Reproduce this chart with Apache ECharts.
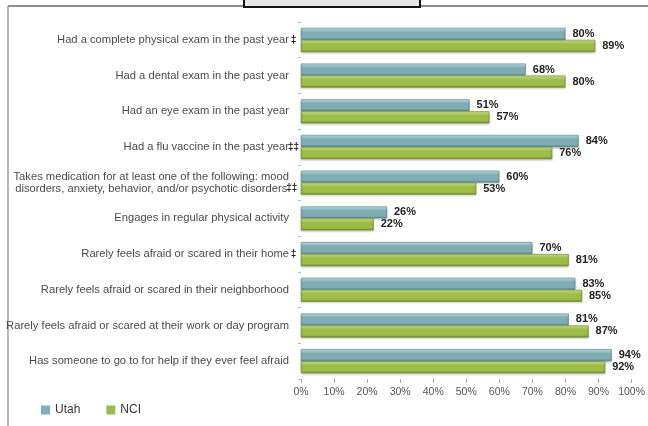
<!DOCTYPE html>
<html>
<head>
<meta charset="utf-8">
<script src="https://cdn.jsdelivr.net/npm/echarts@6/dist/echarts.min.js"></script>
<style>html,body{margin:0;padding:0;background:#fff}#c{width:648px;height:426px}</style>
</head>
<body>
<div id="c"></div>
<script>
const categories = [
  "Had a complete physical exam in the past year",
  "Had a dental exam in the past year",
  "Had an eye exam in the past year",
  "Had a flu vaccine in the past year",
  "Takes medication for at least one of the following: mood\ndisorders, anxiety, behavior, and/or psychotic disorders",
  "Engages in regular physical activity",
  "Rarely feels afraid or scared in their home",
  "Rarely feels afraid or scared in their neighborhood",
  "Rarely feels afraid or scared at their work or day program",
  "Has someone to go to for help if they ever feel afraid"
];
const marks = ["‡", "", "", "‡‡", "‡‡", "", "‡", "", "", ""];
const utah = [80, 68, 51, 84, 60, 26, 70, 83, 81, 94];
const nci = [89, 80, 57, 76, 53, 22, 81, 85, 87, 92];
const xTicks = ["0%","10%","20%","30%","40%","50%","60%","70%","80%","90%","100%"];

const chart = echarts.init(document.getElementById('c'), null, {renderer:'canvas'});
function grad(top, mid, bot){
  return new echarts.graphic.LinearGradient(0,0,0,1,[
    {offset:0,color:top},{offset:0.35,color:mid},{offset:0.8,color:mid},{offset:1,color:bot}]);
}
const labelFont = "Liberation Sans";
chart.setOption({
  backgroundColor:'#fff',
  animation:false,
  grid:{left:301, right:13, top:22, bottom:47, containLabel:false},
  legend:{
    data:[{name:'Utah', itemStyle:{color:'#7fb0b8'}},{name:'NCI', itemStyle:{color:'#9bbb4a'}}],
    left:36, top:399, itemWidth:9, itemHeight:9, itemGap:26, itemTextGap:3,
    icon:'rect',
    itemStyle:{borderWidth:0},
    textStyle:{fontFamily:labelFont, fontSize:12, color:'#333'}
  },
  xAxis:{
    type:'value', min:0, max:100, interval:10,
    axisLine:{show:false},
    axisTick:{show:true, length:4, lineStyle:{color:'#aaa'}},
    splitLine:{show:false},
    axisLabel:{margin:8, fontFamily:labelFont, fontSize:10.5, color:'#555',
      formatter:(v)=>xTicks[Math.round(v/10)]}
  },
  yAxis:{
    type:'category', inverse:true,
    data:categories.map((c,i)=>({value:c})),
    axisLine:{show:false},
    axisTick:{show:true, length:3, lineStyle:{color:'#bbb'}},
    axisLabel:{
      margin:3, align:'right',
      formatter:(v,i)=>{
        const lines = v.split('\n');
        return lines.map((l,k)=> '{t|'+l+'}' + (k===lines.length-1 ? '{s|'+(marks[i]||' ')+'}' : '{s| }')).join('\n');
      },
      rich:{
        t:{fontFamily:labelFont, fontSize:11.2, color:'#4a4a4a', lineHeight:12},
        s:{fontFamily:labelFont, fontSize:10, fontWeight:'bold', color:'#222', width:9, align:'left', lineHeight:12}
      }
    }
  },
  series:[
    {name:'Utah', type:'bar', data:utah, barWidth:12, barGap:'0%',
      itemStyle:{color:grad('#c4e8ec','#80adb4','#55858c'), borderColor:'#5a8990', borderWidth:0.6,
        shadowBlur:2, shadowColor:'rgba(0,0,0,0.25)', shadowOffsetY:1},
      label:{show:true, position:'right', distance:7, formatter:'{c}%', fontFamily:labelFont, fontSize:11, fontWeight:'bold', color:'#222'}
    },
    {name:'NCI', type:'bar', data:nci, barWidth:12, barGap:'0%',
      itemStyle:{color:grad('#d2ec90','#9dbd48','#6d8c24'), borderColor:'#6a8a25', borderWidth:0.6,
        shadowBlur:2, shadowColor:'rgba(0,0,0,0.25)', shadowOffsetY:1},
      label:{show:true, position:'right', distance:7, formatter:'{c}%', fontFamily:labelFont, fontSize:11, fontWeight:'bold', color:'#222'}
    }
  ],
  color:['#7fb0b8','#9bbb4a'],
  graphic:[
    {type:'line', shape:{x1:8, y1:6, x2:648, y2:6}, style:{stroke:'#8c8c8c', lineWidth:2}},
    {type:'line', shape:{x1:8, y1:6, x2:8, y2:426}, style:{stroke:'#a0a0a0', lineWidth:1.5}},
    {type:'rect', shape:{x:244, y:-10, width:176, height:17}, style:{fill:'#e4e4e4', stroke:'#111', lineWidth:2}}
  ]
});
</script>
</body>
</html>
